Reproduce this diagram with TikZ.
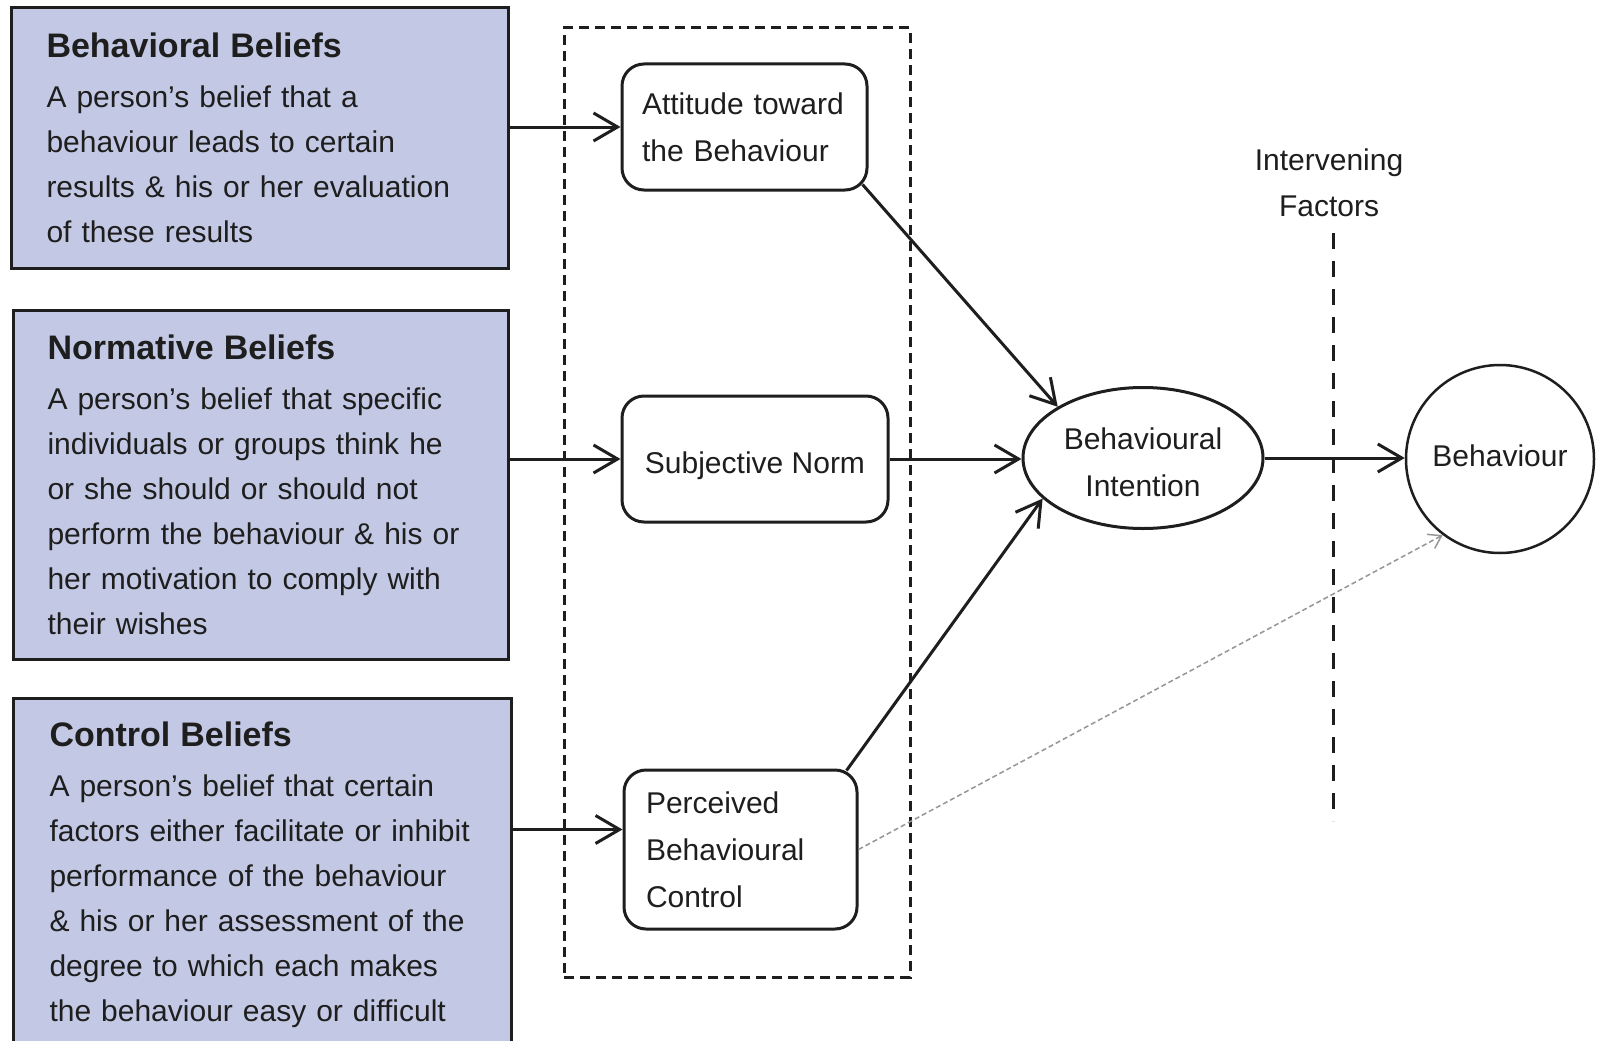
\documentclass[tikz,border=0pt]{standalone}
\usepackage{fontspec}
\setmainfont{Liberation Sans}
\usetikzlibrary{arrows.meta,shapes.geometric,calc}
\definecolor{beliefblue}{RGB}{195,201,228}
\definecolor{ink}{RGB}{30,30,30}
\definecolor{dotgray}{RGB}{150,150,150}
\hfuzz=200pt \hbadness=10000
\newcommand\btitle[1]{{\fontsize{34}{45}\selectfont\bfseries #1\par}\vspace{5pt}}
\begin{document}
\begin{tikzpicture}[x=1pt,y=-1pt,
  belief/.style={draw=ink, line width=3pt, fill=beliefblue, anchor=north west, align=left,
    text=ink, font=\fontsize{30}{45}\selectfont, inner ysep=0pt},
  mid/.style={draw=ink, line width=3pt, rounded corners=22pt, fill=white, text=ink,
    font=\fontsize{30}{47}\selectfont, inner ysep=0pt},
  arr/.style={draw=ink, line width=3pt, -{Straight Barb[length=24pt,width=28pt]}},
  dotarr/.style={draw=dotgray, line width=1.5pt, dash pattern=on 5pt off 3pt,
    -{Straight Barb[length=12pt,width=16pt]}},
  grpbox/.style={draw=ink, line width=3pt, dash pattern=on 10pt off 6pt, inner sep=0pt},
  ivline/.style={draw=ink, line width=3pt, dash pattern=on 16pt off 12pt}
]
\clip (0,0) rectangle (1599,1041);
\fill[white] (0,0) rectangle (1599,1041);

% dashed group
\node[grpbox, minimum width=346, minimum height=949] (grp) at (737,502.5) {};

% belief boxes
\node[belief, minimum width=497, minimum height=261, text width=427, inner xsep=35] (b1) at (10,6)
  {\btitle{Behavioral Beliefs}A person's belief that a\\behaviour leads to certain\\results \& his or her evaluation\\of these results};
\node[belief, minimum width=495, minimum height=349, text width=427, inner xsep=34] (b2) at (12,309)
  {\btitle{Normative Beliefs}A person's belief that specific\\individuals or groups think he\\or she should or should not\\perform the behaviour \& his or\\her motivation to comply with\\their wishes};
\node[belief, minimum width=498, minimum height=352, text width=426, inner xsep=36] (b3) at (12,697)
  {\btitle{Control Beliefs}A person's belief that certain\\factors either facilitate or inhibit\\performance of the behaviour\\\& his or her assessment of the\\degree to which each makes\\the behaviour easy or difficult};

% middle boxes
\node[mid, text width=205, inner xsep=20, minimum height=126, align=left] (att) at (744.5,127)
  {Attitude toward\\the Behaviour};
\node[mid, minimum width=266, minimum height=126, align=center, text height=28pt, text depth=0pt] (sn) at (755,459)
  {Subjective Norm};
\node[mid, text width=189, inner xsep=22, minimum height=159, align=left] (pbc) at (740.5,849.5)
  {Perceived\\Behavioural\\Control};

% intention and behaviour
\node[draw=ink, line width=3pt, ellipse, minimum width=240, minimum height=141, inner sep=0pt,
  align=center, text=ink, font=\fontsize{30}{47}\selectfont] (ell) at (1143,458)
  {\rule{0pt}{31pt}Behavioural\\Intention};
\node[draw=ink, line width=2.5pt, circle, minimum size=188, inner sep=0pt, text=ink,
  text height=14pt, text depth=0pt,
  font=\fontsize{30}{47}\selectfont] (beh) at (1500,459) {Behaviour};

% intervening factors
\node[align=center, text=ink, font=\fontsize{30}{46}\selectfont] (ivf) at (1329,183)
  {Intervening\\Factors};
\coordinate (ivt) at (1333,233);
\coordinate (ivb) at (1333,821);
\draw[ivline] (ivt) -- (ivb);

% connectors
\draw[arr] (b1.east |- att.west) -- (att.west);
\draw[arr] (b2.east |- sn.west) -- (sn.west);
\coordinate (pbcin) at ($(pbc.west)+(0,-20)$);
\draw[arr] (b3.east |- pbcin) -- (pbcin);

\coordinate (atto) at ($(att.south east)+(-6,-7)$);
\draw[arr] (atto) -- (ell.149);
\draw[arr] (sn.east) -- (sn.east -| ell.west);
\coordinate (pbco) at ($(pbc.north east)+(-12,2)$);
\draw[arr] (pbco) -- (ell.202);
\draw[arr] (ell.east) -- (ell.east -| beh.west);
\draw[dotarr] (pbc.east) -- (beh.233);
\end{tikzpicture}
\end{document}
